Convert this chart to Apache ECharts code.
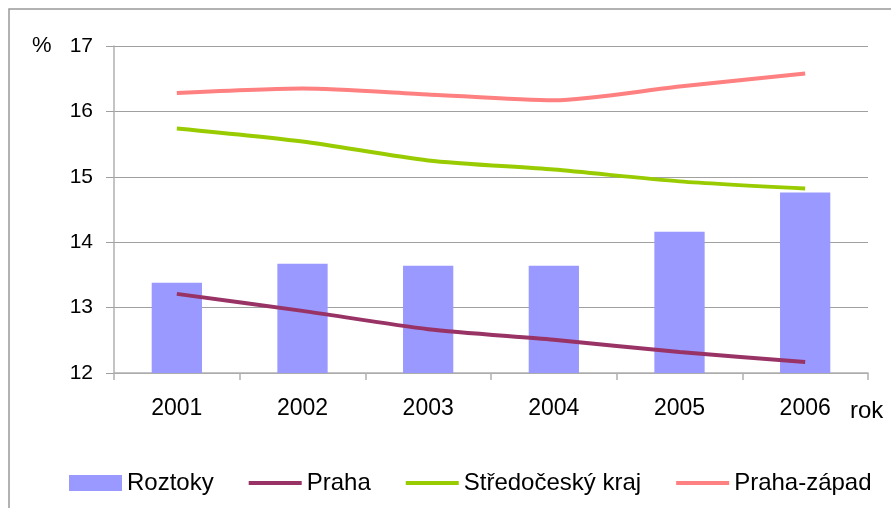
<!DOCTYPE html>
<html>
<head>
<meta charset="utf-8">
<script src="https://cdn.jsdelivr.net/npm/echarts@6/dist/echarts.min.js"></script>
<style>
  html, body { margin: 0; padding: 0; background: #fff; }
  #chart { width: 891px; height: 508px; }
</style>
</head>
<body>
<div id="chart"></div>
<script>
const years = ['2001', '2002', '2003', '2004', '2005', '2006']
const roztoky = [13.38, 13.67, 13.64, 13.64, 14.16, 14.76]
const praha = [13.21, 12.95, 12.67, 12.51, 12.32, 12.17]
const stredocesky = [15.74, 15.54, 15.25, 15.11, 14.93, 14.82]
const prahaZapad = [16.28, 16.35, 16.26, 16.17, 16.38, 16.58]
const yTicks = { min: 12, max: 17, step: 1 }

const font = 'Liberation Sans, Arial, sans-serif'
const lineIcon = 'path://M0,0H53V4H0Z'
const chart = echarts.init(document.getElementById('chart'))

const lineSeries = (name, data, color) => ({
  name: name,
  type: 'line',
  data: data,
  smooth: 0.25,
  symbol: 'none',
  lineStyle: { color: color, width: 4 },
  itemStyle: { color: color }
})

const option = {
  backgroundColor: '#fff',
  animation: false,
  textStyle: { fontFamily: font },
  graphic: [
    {
      type: 'rect',
      shape: { x: 9, y: 9, width: 900, height: 520 },
      style: { fill: 'none', stroke: '#999', lineWidth: 1.5 },
      silent: true
    },
    {
      type: 'text',
      left: 32,
      top: 35,
      style: { text: '%', font: '22px ' + font, fill: '#000' }
    },
    {
      type: 'text',
      left: 850,
      top: 399,
      style: { text: 'rok', font: '24px ' + font, fill: '#000' }
    }
  ],
  grid: { left: 114, right: 23, top: 46, bottom: 135 },
  legend: {
    left: 69,
    top: 471,
    padding: 0,
    itemWidth: 53,
    itemHeight: 16,
    itemGap: 35,
    textStyle: { fontSize: 24, color: '#000', fontFamily: font },
    data: [
      { name: 'Roztoky', icon: 'rect' },
      { name: 'Praha', icon: lineIcon },
      { name: 'Středočeský kraj', icon: lineIcon },
      { name: 'Praha-západ', icon: lineIcon }
    ]
  },
  xAxis: {
    type: 'category',
    data: years,
    boundaryGap: true,
    axisLine: { lineStyle: { color: '#b0b0b0', width: 1.5 } },
    axisTick: { show: true, length: 7, lineStyle: { color: '#b0b0b0', width: 1.5 } },
    axisLabel: { fontSize: 23, color: '#000', margin: 24, fontFamily: font }
  },
  yAxis: {
    type: 'value',
    min: yTicks.min,
    max: yTicks.max,
    interval: yTicks.step,
    axisLine: { show: true, lineStyle: { color: '#b0b0b0', width: 1.5 } },
    axisTick: { show: true, length: 8, lineStyle: { color: '#a0a0a0' } },
    axisLabel: { fontSize: 21, color: '#000', margin: 21, fontFamily: font },
    splitLine: { lineStyle: { color: '#a0a0a0', width: 1.2 } }
  },
  series: [
    {
      name: 'Roztoky',
      type: 'bar',
      data: roztoky,
      barWidth: '40%',
      itemStyle: { color: '#9999ff' }
    },
    lineSeries('Praha', praha, '#993366'),
    lineSeries('Středočeský kraj', stredocesky, '#99cc00'),
    lineSeries('Praha-západ', prahaZapad, '#ff8080')
  ]
}

chart.setOption(option)
</script>
</body>
</html>
